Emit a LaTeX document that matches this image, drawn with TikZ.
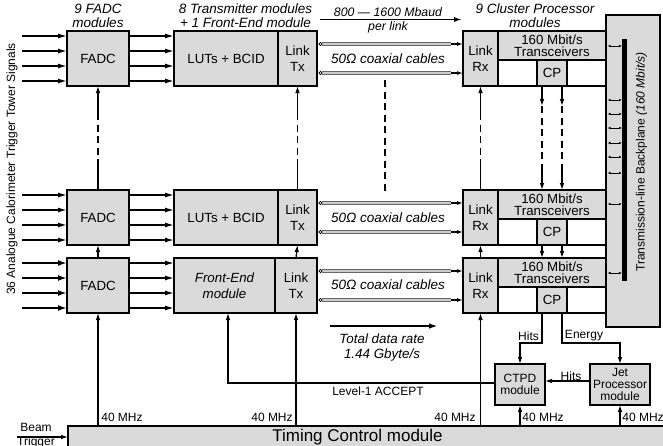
\documentclass[tikz,border=0pt]{standalone}
\usepackage{fontspec}
\setmainfont{Liberation Sans}
\usetikzlibrary{arrows.meta,calc}
\definecolor{boxgray}{RGB}{218,218,218}
\definecolor{cablegray}{RGB}{205,205,205}
\begin{document}
\begin{tikzpicture}[x=1pt,y=-1pt,
  every node/.style={inner sep=0pt, outer sep=0pt},
  sub/.style={draw, line width=1.1pt, fill=boxgray, font=\fontsize{13.3}{15.5}\selectfont, align=center},
  frame/.style={draw, line width=2.4pt},
  modtwo/.style={draw, line width=2.6pt, fill=boxgray, align=center, font=\fontsize{12}{11.8}\selectfont},
  conn/.style={line width=1.2pt},
  arr/.style={conn, -{Latex[length=7pt,width=4.6pt]}},
  dsh/.style={conn, dash pattern=on 7pt off 4.5pt},
  lbl/.style={font=\fontsize{12}{13.5}\selectfont, align=center},
  ttl/.style={font=\fontsize{13.5}{14}\selectfont\itshape, align=center},
  coaxlbl/.style={font=\fontsize{13.5}{14}\selectfont\itshape},
  inarr/.style={line width=1.4pt, -{Latex[length=9pt,width=5pt]}},
  inarrb/.style={line width=2.2pt, -{Latex[length=9pt,width=6pt]}},
  bparr/.style={line width=0.6pt, {Latex[length=3pt,width=2.4pt]}-{Latex[length=3pt,width=2.4pt]}},
]
\useasboundingbox (0,0) rectangle (663,445);

% ---------- backplane ----------
\node[draw, line width=1.8pt, fill=boxgray, minimum width=54pt, minimum height=312pt] (bp) at (633,171) {};
\node[fill=black, minimum width=5pt, minimum height=242pt] (bar) at (624.8,159.5) {};
\foreach \yy in {46,100,114,128,143,157,173,204,273}
  \draw[bparr] (607.5,\yy) -- (622,\yy);
\node[lbl, rotate=90] (bplbl) at (641.5,162) {Transmission-line Backplane \textit{(160 Mbit/s)}};

% ---------- FADC ----------
\node[sub, line width=2.4pt, minimum width=62pt, minimum height=55pt] (fadc1) at (98,58.5) {FADC};
\node[sub, line width=2.4pt, minimum width=62pt, minimum height=55pt] (fadc2) at (98,217.5) {FADC};
\node[sub, line width=2.4pt, minimum width=62pt, minimum height=55pt] (fadc3) at (98,285.5) {FADC};

% ---------- transmitter modules ----------
\node[sub, minimum width=104pt, minimum height=55pt] (lut1) at (226,58.5) {LUTs + BCID};
\node[sub, minimum width=39pt, minimum height=55pt] (tx1) at (297.5,58.5) {Link\\Tx};
\draw[frame] (lut1.north west) rectangle (tx1.south east);
\node[sub, minimum width=104pt, minimum height=55pt] (lut2) at (226,217.5) {LUTs + BCID};
\node[sub, minimum width=39pt, minimum height=55pt] (tx2) at (297.5,217.5) {Link\\Tx};
\draw[frame] (lut2.north west) rectangle (tx2.south east);
\node[sub, minimum width=101pt, minimum height=55pt, font=\fontsize{13.3}{16}\selectfont\itshape] (fe) at (224.5,285.5) {Front-End\\module};
\node[sub, minimum width=42pt, minimum height=55pt] (tx3) at (296,285.5) {Link\\Tx};
\draw[frame] (fe.north west) rectangle (tx3.south east);

% ---------- cluster processor modules ----------
\foreach \r/\c in {1/58.5, 2/217.5, 3/285.5} {
  \node[sub, minimum width=35pt, minimum height=55pt] (rx\r) at (480.5,\c) {Link\\Rx};
  \node[sub, minimum width=108pt, minimum height=29pt, font=\fontsize{13.3}{12.2}\selectfont] (tr\r) at (552,\c-13) {160 Mbit/s\\Transceivers};
  \draw[line width=1.1pt, fill=white] (tr\r.south west) rectangle (tr\r.east |- rx\r.south);
  \node[sub, minimum width=30pt, minimum height=26pt] (cp\r) at (552,\c+14.5) {CP};
  \draw[frame] (rx\r.north west) rectangle (tr\r.east |- rx\r.south);
}

% ---------- CTPD / Jet ----------
\node[modtwo, minimum width=50pt, minimum height=41pt] (ctpd) at (520,384.5) {CTPD\\module};
\node[modtwo, minimum width=60pt, minimum height=41pt] (jet) at (620,384.5) {Jet\\Processor\\module};

% ---------- timing control ----------
\node[draw, line width=1.8pt, fill=boxgray, minimum width=600pt, minimum height=22pt] (tcm) at (368,437) {};
\node[font=\fontsize{17}{17}\selectfont] (tcmlbl) at (357.5,437.3) {Timing Control module};

% ---------- titles ----------
\node[ttl] (fadct) at (98,16) {9 FADC\\modules};
\node[ttl] (txt) at (245.5,16) {8 Transmitter modules\\+ 1 Front-End module};
\node[ttl] (cpt) at (535,16) {9 Cluster Processor\\modules};
\node[lbl, font=\fontsize{12.3}{13}\selectfont\itshape] (mbaud) at (388,12.5) {800 — 1600 Mbaud};
\node[lbl, font=\fontsize{12.3}{13}\selectfont\itshape] (perlink) at (388,27.5) {per link};
\coordinate (mb1) at (320,19.5);
\coordinate (mb2) at (462,19.5);
\draw[line width=1.5pt, -{Latex[length=8pt,width=5pt]}] (mb1) -- (mb2);
\node[lbl, rotate=90] (inlbl) at (12,169) {36 Analogue Calorimeter Trigger Tower Signals};

% ---------- inputs ----------
\foreach \o in {-22.5,-7.5,7.5,22.5} {
  \draw[inarr] ([xshift=-45pt,yshift=\o pt]fadc1.west) -- ([yshift=\o pt]fadc1.west);
  \draw[inarr] ([xshift=-45pt,yshift=\o pt]fadc2.west) -- ([yshift=\o pt]fadc2.west);
  \draw[inarrb] ([xshift=-45pt,yshift=\o pt]fadc3.west) -- ([yshift=\o pt]fadc3.west);
  \draw[inarr] ([yshift=\o pt]fadc1.east) -- ([yshift=\o pt]lut1.west);
  \draw[inarr] ([yshift=\o pt]fadc2.east) -- ([yshift=\o pt]lut2.west);
  \draw[inarr] ([yshift=\o pt]fadc3.east) -- ([yshift=\o pt]fe.west);
}

% ---------- coaxial cables ----------
\foreach \t/\r in {tx1/rx1, tx2/rx2, tx3/rx3} {
  \foreach \o in {14.5,-14.5} {
    \draw[line width=3.6pt, black!60] ([xshift=5pt,yshift=\o pt]\t.east) -- ([xshift=-12pt,yshift=\o pt]\r.west);
    \draw[line width=2pt, cablegray] ([xshift=5pt,yshift=\o pt]\t.east) -- ([xshift=-12pt,yshift=\o pt]\r.west);
    \draw[line width=0.7pt, fill=white] ([xshift=3.5pt,yshift=\o pt]\t.east) circle (1.6pt);
    \draw[conn, -{Latex[length=6pt,width=4pt]}] ([xshift=-12pt,yshift=\o pt]\r.west) -- ([yshift=\o pt]\r.west);
  }
}
\node[coaxlbl] (coax1) at (388,59) {50Ω coaxial cables};
\node[coaxlbl] (coax2) at (388,218) {50Ω coaxial cables};
\node[coaxlbl] (coax3) at (388,285) {50Ω coaxial cables};
\coordinate (dA) at (385,80);
\coordinate (dB) at (385,195);
\draw[dsh] (dA) -- (dB);

% ---------- vertical links between rows ----------
\foreach \a/\b/\c in {fadc1/fadc2/fadc3, tx1/tx2/tx3, rx1/rx2/rx3} {
  \draw[arr] ([yshift=-27pt]\a.south) -- (\a.south);
  \draw[dsh] ([yshift=-27pt]\a.south) -- ([yshift=25pt]\b.north);
  \draw[conn] ([yshift=25pt]\b.north) -- (\b.north);
  \draw[arr] (\c.north) -- (\b.south);
}
\foreach \s in {-10,10} {
  \draw[arr] ([xshift=\s pt]cp1.south) -- ([xshift=\s pt,yshift=-20pt]cp1.south);
  \draw[dsh] ([xshift=\s pt,yshift=-20pt]cp1.south) -- ([xshift=\s pt,yshift=25pt]tr2.north);
  \draw[arr] ([xshift=\s pt,yshift=25pt]tr2.north) -- ([xshift=\s pt]tr2.north);
  \draw[arr] ([xshift=\s pt]cp2.south) -- ([xshift=\s pt]tr3.north);
}

% ---------- bottom logic ----------
\draw[arr] ([xshift=-10pt]cp3.south) -- ++(0,30) -| (ctpd.north);
\draw[arr] ([xshift=10pt]cp3.south) -- ++(0,30) -| (jet.north);
\node[lbl] (hitsA) at (528.5,336) {Hits};
\node[lbl] (energy) at (584,336) {Energy};
\draw[arr] ([yshift=3.5pt]jet.west) -- ([yshift=3.5pt]ctpd.east);
\node[lbl] (hitsB) at (571,376) {Hits};
\draw[arr] ([yshift=1.5pt]ctpd.west) -| ([xshift=3.5pt]fe.south);
\node[lbl] (l1a) at (378,391) {Level-1 ACCEPT};

% ---------- 40 MHz ----------
\foreach \n in {fadc3, tx3, rx3, ctpd, jet}
  \draw[arr] (tcm.north -| \n.south) -- (\n.south);
\node[lbl] (m1) at (122,417) {40 MHz};
\node[lbl] (m2) at (272,417) {40 MHz};
\node[lbl] (m3) at (455,417) {40 MHz};
\node[lbl] (m4) at (543,417) {40 MHz};
\node[lbl] (m5) at (643,417) {40 MHz};

% ---------- data rate ----------
\coordinate (dr1) at (330,326);
\coordinate (dr2) at (438,326);
\draw[line width=2pt, -{Latex[length=9pt,width=5.5pt]}] (dr1) -- (dr2);
\node[ttl, font=\fontsize{13.4}{15.7}\selectfont\itshape] (tdr) at (382,347.5) {Total data rate\\1.44 Gbyte/s};

% ---------- beam trigger ----------
\node[lbl] (beam) at (36,427) {Beam};
\node[lbl] (trig) at (36,442) {Trigger};
\coordinate (btin) at (17,437);
\draw[arr] (btin) -- (tcm.west);
\end{tikzpicture}
\end{document}
